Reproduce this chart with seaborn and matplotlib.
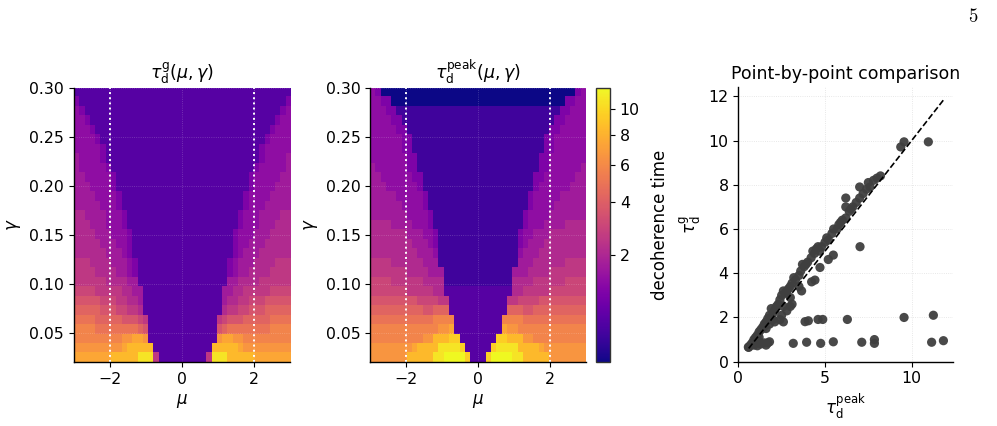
import numpy as np
import pandas as pd
import seaborn as sns
import matplotlib
matplotlib.use("Agg")
import matplotlib.pyplot as plt
from matplotlib.colors import PowerNorm
from matplotlib.ticker import FormatStrFormatter

# ---------------- data ----------------
MU_RANGE = [-3.0, 3.0]
GAMMA_RANGE = [0.02, 0.30]
N_MU = 41

# colour-level codes -> decoherence time
CODES = "0123456789abcdefghijk"
LEVELS = [0.60, 0.61, 0.67, 0.77, 0.92, 1.12, 1.38, 1.70, 2.07, 2.51, 3.02,
          3.59, 4.23, 4.94, 5.71, 6.57, 7.48, 8.47, 9.54, 10.68, 11.90]

# rows from gamma = 0.30 (top) down to 0.02: (left wing, centre code, right wing)
TAU_G_ROWS = [
    ("", "3", ""),
    ("5", "3", "5"),
    ("65", "3", "56"),
    ("665", "3", "566"),
    ("6665", "3", "5666"),
    ("66665", "3", "56666"),
    ("666665", "3", "566666"),
    ("766665", "3", "566667"),
    ("7666665", "3", "5666667"),
    ("77666665", "3", "56666677"),
    ("77766665", "3", "56666777"),
    ("777766665", "3", "566667777"),
    ("777776665", "3", "566677777"),
    ("8877776665", "3", "5666777788"),
    ("8887776665", "3", "5666777888"),
    ("88887776665", "3", "56667778888"),
    ("88888777665", "3", "56677788888"),
    ("88888877765", "3", "56777888888"),
    ("999888877765", "3", "567778888999"),
    ("999988887765", "3", "567788889999"),
    ("999999888877", "3", "778888999999"),
    ("aaaa999998877", "3", "778899999aaaa"),
    ("bbbbbaaa99887", "3", "78899aaabbbbb"),
    ("cccccbbbaa998", "3", "899aabbbccccc"),
    ("ddddcccccbbba9", "3", "9abbbcccccdddd"),
    ("eeeeddddddddcb", "3", "bcddddddddeeee"),
    ("eeeeeeeeeffggf", "3", "fggffeeeeeeeee"),
    ("fffffffffghhhhh", "3", "hhhhhgfffffffff"),
    ("ggggggghhhhhjjj9", "3", "9jjjhhhhhggggggg"),
]

TAU_PEAK_ROWS = [
    ("65", "0", "56"),
    ("6655", "0", "5566"),
    ("66655", "2", "55666"),
    ("666655", "2", "556666"),
    ("6666655", "2", "5566666"),
    ("66666655", "2", "55666666"),
    ("66666655", "2", "55666666"),
    ("666666655", "2", "556666666"),
    ("766666655", "2", "556666667"),
    ("7766666655", "2", "5566666677"),
    ("7776666665", "2", "5666666777"),
    ("77777666665", "2", "56666677777"),
    ("77777766665", "2", "56666777777"),
    ("777777766665", "2", "566667777777"),
    ("888877776665", "2", "566677778888"),
    ("8888888777665", "2", "5667778888888"),
    ("8888888877765", "2", "5677788888888"),
    ("8888888887776", "2", "6777888888888"),
    ("9999888888777", "2", "7778888889999"),
    ("99999998888777", "2", "77788889999999"),
    ("aaaa9999998888", "2", "8888999999aaaa"),
    ("aaaaaaa9999988", "3", "8899999aaaaaaa"),
    ("bbbbbbbbbaaaa99", "3", "99aaaabbbbbbbbb"),
    ("ccccccccccbbccc", "3", "cccbbcccccccccc"),
    ("ddddddddddddeeee", "3", "eeeedddddddddddd"),
    ("eeeeeeeeeeeeeffg", "3", "gffeeeeeeeeeeeee"),
    ("eeeeeeeeeeffhhhii", "3", "iihhhffeeeeeeeeee"),
    ("ffffffffghhhhjjjji", "3", "ijjjjhhhhgffffffff"),
    ("fffffffhhhhhjjkkkki", "3", "ikkkkjjhhhhhfffffff"),
]

# point-by-point comparison (tau_peak, tau_g)
TAU_PEAK_PTS = [0.58, 0.6, 0.7, 0.8, 0.9, 1.0, 1.1, 1.2, 1.3, 1.4, 1.5, 1.6, 1.7, 1.8,
                1.9, 2.0, 2.1, 2.2, 2.3, 2.4, 2.5, 2.6, 2.7, 2.8, 2.9, 3.0, 3.1, 3.2,
                3.3, 3.5, 3.6, 3.7, 3.8, 3.9, 4.0, 4.2, 4.3, 4.4, 4.5, 4.6, 4.7, 4.8,
                5.0, 5.1, 5.2, 5.4, 5.5, 5.7, 5.8, 5.9, 6.0, 6.2, 6.2, 6.2, 6.4, 6.5,
                6.6, 6.8, 7.0, 7.0, 7.2, 7.4, 7.5, 7.6, 7.8, 8.0, 8.2,
                1.2, 1.6, 2.0, 2.6, 3.0, 3.5,
                2.8, 3.0, 3.1, 2.5, 1.5, 1.8, 2.1, 2.4, 2.6,
                0.9, 1.0, 1.1, 1.2, 1.3, 1.5, 1.6, 1.7, 1.8,
                3.17, 3.94, 4.75, 5.48, 7.12, 7.85, 7.85, 11.15, 11.83,
                3.85, 4.04, 4.6, 4.87, 6.29, 9.56, 11.25,
                3.65, 4.23, 4.42, 4.71, 5.19, 5.48, 7.02,
                9.37, 9.56, 10.96]
TAU_G_PTS = [0.66, 0.65, 0.75, 0.85, 1.0, 1.1, 1.2, 1.35, 1.45, 1.55, 1.7, 1.8, 1.95, 2.1,
             2.4, 2.2, 2.35, 2.5, 2.6, 2.8, 3.0, 3.2, 3.1, 3.2, 3.3, 3.4, 3.55, 3.8,
             3.7, 3.9, 4.1, 4.4, 4.3, 4.4, 4.5, 4.7, 5.0, 4.9, 5.1, 5.2, 5.0, 5.2,
             5.4, 5.6, 5.5, 5.8, 6.0, 6.0, 6.2, 6.3, 6.4, 6.5, 7.0, 7.4, 6.8, 6.9,
             7.0, 7.2, 7.4, 7.9, 7.6, 7.8, 8.1, 7.9, 8.2, 8.3, 8.4,
             1.1, 1.5, 1.9, 2.5, 2.9, 3.4,
             2.3, 2.5, 2.6, 2.1, 1.6, 1.7, 1.8, 1.9, 1.8,
             0.75, 0.85, 0.72, 0.9, 0.8, 0.85, 0.75, 0.85, 0.9,
             0.83, 0.88, 0.83, 0.9, 0.88, 0.83, 1.0, 0.88, 0.95,
             1.81, 1.85, 1.91, 1.91, 1.91, 2.0, 2.1,
             3.2, 3.61, 3.69, 4.26, 4.62, 4.82, 5.2,
             9.71, 9.94, 9.94]


def build_grid(rows):
    out = []
    for left, centre, right in rows:
        s = left + centre * (N_MU - len(left) - len(right)) + right
        out.append([LEVELS[CODES.index(ch)] for ch in s])
    return np.array(out)


tau_g = build_grid(TAU_G_ROWS)
tau_peak = build_grid(TAU_PEAK_ROWS)
df = pd.DataFrame({"tau_peak": TAU_PEAK_PTS, "tau_g": TAU_G_PTS})

# ---------------- style ----------------
sns.set_style("ticks")
plt.rcParams.update({
    "font.family": ["DejaVu Sans"],
    "font.size": 11,
    "xtick.labelsize": 11.3,
    "ytick.labelsize": 11.3,
    "axes.labelsize": 12,
    "axes.titlesize": 12.5,
    "axes.spines.top": False,
    "axes.spines.right": False,
    "axes.edgecolor": "black",
    "axes.linewidth": 1.0,
    "xtick.color": "black",
    "ytick.color": "black",
    "text.color": "black",
    "axes.labelcolor": "black",
})

W, H = 997, 426
fig = plt.figure(figsize=(W / 100, H / 100), dpi=100)


def box(x0, y0, x1, y1):
    return [x0 / W, 1 - y1 / H, (x1 - x0) / W, (y1 - y0) / H]


ax1 = fig.add_axes(box(73.5, 87.5, 290.0, 362.0))
ax2 = fig.add_axes(box(370.3, 87.5, 586.3, 362.0))
cax = fig.add_axes(box(596.0, 87.5, 610.0, 362.0))
ax3 = fig.add_axes(box(738.3, 87.0, 953.3, 361.7))

norm = PowerNorm(gamma=0.45, vmin=LEVELS[0], vmax=LEVELS[-1])
extent = [MU_RANGE[0], MU_RANGE[1], GAMMA_RANGE[0], GAMMA_RANGE[1]]

titles = [r"$\tau_\mathrm{d}^\mathrm{g}(\mu, \gamma)$",
          r"$\tau_\mathrm{d}^\mathrm{peak}(\mu, \gamma)$"]
for ax, grid, title in [(ax1, tau_g, titles[0]), (ax2, tau_peak, titles[1])]:
    im = ax.imshow(grid, cmap="plasma", norm=norm, extent=extent, aspect="auto",
                   interpolation="nearest", origin="upper")
    ax.set_xlim(*MU_RANGE)
    ax.set_ylim(*GAMMA_RANGE)
    ax.set_xticks([-2, 0, 2])
    ax.set_yticks([0.05, 0.10, 0.15, 0.20, 0.25, 0.30])
    ax.yaxis.set_major_formatter(FormatStrFormatter("%.2f"))
    ax.grid(True, ls=":", lw=0.6, color="white", alpha=0.25)
    for xv in (-2, 2):
        ax.axvline(xv, color="white", ls=":", lw=1.4)
    ax.set_xlabel(r"$\mu$")
    ax.set_ylabel(r"$\gamma$")
    ax.set_title(title)

cb = fig.colorbar(im, cax=cax)
cb.set_ticks([2, 4, 6, 8, 10])
cb.set_label("decoherence time", labelpad=8)
cb.outline.set_edgecolor("#333333")

sns.scatterplot(data=df, x="tau_peak", y="tau_g", ax=ax3, color="#3f3f3f",
                s=44, edgecolor="none", alpha=0.95, legend=False, zorder=3)
lo, hi = LEVELS[0], LEVELS[-1]
ax3.plot([lo, hi], [lo, hi], color="black", ls="--", lw=1.2, zorder=4)
ax3.set_xlim(0, 12.4)
ax3.set_ylim(0, 12.42)
ax3.set_xticks([0, 5, 10])
ax3.set_yticks([0, 2, 4, 6, 8, 10, 12])
ax3.grid(True, ls=":", lw=0.6, color="#cccccc", alpha=0.6)
ax3.set_axisbelow(True)
ax3.set_xlabel(r"$\tau_\mathrm{d}^\mathrm{peak}$")
ax3.set_ylabel(r"$\tau_\mathrm{d}^\mathrm{g}$")
ax3.set_title("Point-by-point comparison")

fig.text(973 / W, 1 - 17 / H, r"$5$", math_fontfamily="cm", fontsize=13.5,
         ha="center", va="center")

fig.savefig("out.png", dpi=100)
